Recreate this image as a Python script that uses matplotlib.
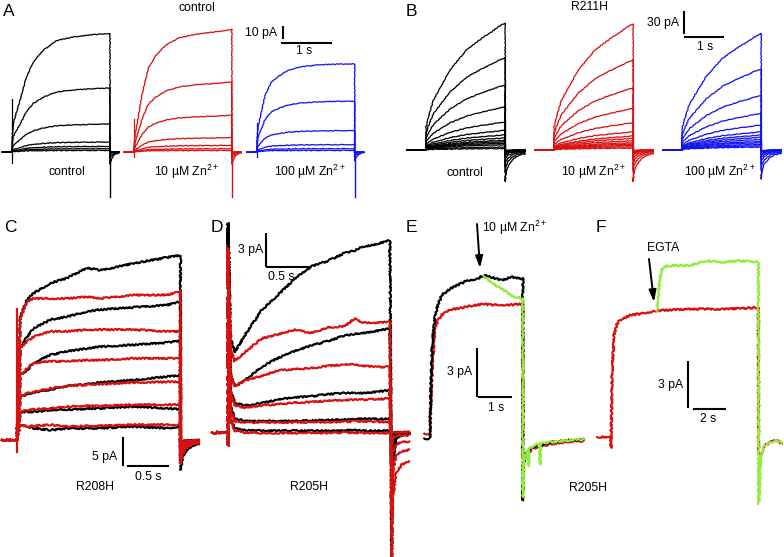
import matplotlib
matplotlib.use("Agg")
import matplotlib.pyplot as plt

plt.rcParams["font.family"] = ["Liberation Sans", "DejaVu Sans"]
plt.rcParams["mathtext.fontset"] = "custom"
plt.rcParams["mathtext.rm"] = "Liberation Sans"
plt.rcParams["mathtext.it"] = "Liberation Sans:italic"
plt.rcParams["mathtext.bf"] = "Liberation Sans:bold"

W, H = 784, 557
BLACK = "#000000"
RED = "#d81010"
BLUE = "#1212f0"
GREEN = "#92ec3c"

# ------------------------------------------------------------
# DATA (currents in pA, time in s from step onset)
# ------------------------------------------------------------
# A: control channel, normalised activation shapes + end amplitudes per sweep
A_t = [0, 0.03, 0.16, 0.28, 0.42, 0.62, 0.88, 1.21, 1.61, 1.92]
A_shape_ctrl = [0.08, 0.25, 0.44, 0.63, 0.76, 0.86, 0.94, 0.97, 0.99, 1.0]
A_shape_zn10 = [0.05, 0.15, 0.47, 0.68, 0.78, 0.87, 0.93, 0.96, 0.98, 1.0]
A_shape_zn100 = [0.10, 0.30, 0.64, 0.79, 0.86, 0.93, 0.97, 0.99, 1.0, 1.0]
A_amp_ctrl = [89, 48, 21, 7.5, 4.2, 2.5, 1.2]
A_amp_zn10 = [92, 52.5, 27.5, 10.8, 5.0, 2.5, 1.2]
A_amp_zn100 = [66, 38, 16, 5.5, 2.5, 1.2]
A_tail_dt = [0, 0.02, 0.06, 0.10, 0.18]
A_tail_frac = [-0.10, -0.07, -0.04, -0.02, -0.005]
A_on_spike = {"ctrl": (-8, 40), "zn10": (-4, 25), "zn100": (-4, 22)}
A_off_spike = -34

# B: R211H
B_t = [0, 0.06, 0.18, 0.39, 0.60, 0.81, 1.02, 1.23, 1.44, 1.64, 1.81, 1.98]
B_shape = [0.18, 0.26, 0.39, 0.51, 0.63, 0.71, 0.79, 0.84, 0.89, 0.93, 0.97, 1.0]
B_amp_ctrl = [168, 122, 86, 57, 37, 26, 20, 16, 13, 11, 9, 7, 4, 2]
B_amp_zn10 = [167, 119, 82, 55, 36, 24, 18.5, 15.4, 12.3, 9.7, 7.9, 6.2, 4.4, 2.6]
B_amp_zn100 = [154, 107, 72, 48.5, 33, 24, 19.8, 16.8, 14.1, 11.5, 9.7, 7.5, 5.7, 4.0]
B_tail_dt = [0, 0.02, 0.08, 0.20, 0.35, 0.50]
B_tail_frac = [-0.25, -0.18, -0.12, -0.07, -0.04, -0.03]

# C: R208H, black = control, red = Zn2+
C_t = [0.04, 0.12, 0.2, 0.4, 0.6, 0.84, 1.0, 1.4, 1.8, 1.96]
C_black = [
    [21.0, 23.9, 25.0, 26.7, 27.6, 29.3, 28.9, 30.1, 31.1, 31.5],
    [15.6, 17.6, 19.0, 20.5, 21.0, 21.9, 22.2, 22.6, 23.0, 23.6],
    [11.1, 11.9, 13.1, 14.5, 15.1, 15.6, 15.9, 16.2, 16.6, 16.9],
    [7.4, 7.8, 8.1, 8.6, 9.2, 9.5, 9.8, 10.2, 10.8, 11.0],
    [4.7, 4.8, 4.8, 5.1, 5.2, 5.3, 5.4, 5.7, 5.4, 5.2],
    [2.6, 2.3, 2.0, 1.7, 2.0, 2.0, 2.0, 2.3, 2.0, 2.3],
]
C_red = [
    [20.7, 23.6, 24.1, 24.1, 24.1, 24.4, 24.1, 24.7, 24.7, 25.3],
    [15.6, 16.8, 17.6, 18.5, 18.5, 18.8, 18.8, 18.8, 18.5, 18.5],
    [11.1, 12.2, 13.1, 13.4, 13.4, 13.6, 13.6, 13.9, 13.9, 13.9],
    [7.4, 8.0, 8.2, 8.8, 9.2, 9.4, 9.5, 9.8, 9.9, 9.9],
    [4.8, 5.1, 5.2, 5.4, 5.7, 5.8, 5.8, 6.0, 6.0, 6.0],
    [2.6, 2.3, 2.4, 2.6, 2.3, 2.4, 2.4, 2.6, 2.6, 2.6],
]
C_tail_dt = [0, 0.03, 0.08, 0.14, 0.22]
C_tail_top = [-5.1, -2.8, -1.6, -1.0, -0.6]
C_on_spike = (-2.0, 22.4)

# D: R205H, black = control, red = Zn2+
D_t = [0.03, 0.076, 0.19, 0.38, 0.57, 0.76, 0.95, 1.14, 1.33, 1.44, 1.52, 1.70, 1.84]
D_black = [
    [8.3, 7.1, 8.6, 10.8, 12.2, 13.6, 14.7, 15.2, 15.9, 16.1, 16.4, 16.7, 17.0],
    [5.2, 4.1, 4.6, 5.8, 6.6, 7.2, 7.7, 8.1, 8.6, 8.7, 8.8, 9.0, 9.2],
    [3.7, 2.65, 2.4, 2.6, 2.9, 3.1, 3.2, 3.4, 3.5, 3.5, 3.5, 3.6, 3.75],
    [2.3, 1.3, 1.0, 1.0, 1.0, 1.0, 1.05, 1.1, 1.15, 1.2, 1.2, 1.2, 1.2],
    [1.3, 0.35, 0.2, 0.15, 0.15, 0.15, 0.15, 0.15, 0.2, 0.2, 0.15, 0.15, 0.15],
]
D_red = [
    [7.4, 6.3, 7.1, 8.3, 8.7, 9.1, 8.8, 9.3, 9.4, 10.1, 9.7, 9.7, 9.8],
    [5.2, 4.1, 4.6, 5.0, 5.5, 5.6, 5.7, 5.9, 6.0, 6.0, 5.9, 5.8, 5.8],
    [3.5, 2.4, 2.2, 2.4, 2.5, 2.65, 2.7, 2.8, 2.85, 2.9, 2.9, 2.95, 3.0],
    [2.0, 1.0, 0.9, 0.9, 0.9, 0.9, 0.9, 0.9, 0.95, 1.0, 1.0, 0.95, 0.9],
    [1.1, 0.15, 0.0, -0.05, -0.05, -0.05, -0.05, -0.05, 0.0, 0.0, -0.05, -0.05, -0.05],
]
D_spike = {"black": 18.5, "red": 16.3}
D_spike_low = -1.15
D_end = 1.86
D_tail_dt = [0, 0.01, 0.05, 0.12, 0.20]
D_tail_black = [-11.2, -3.0, -0.6, -0.2, -0.1]
D_tail_red = [-11.2, -6.0, -3.5, -2.8, -2.6]

# E: R205H, 10 uM Zn2+ applied during the step
E_t = [-0.17, 0, 0.03, 0.06, 0.1, 0.15, 0.25, 0.35, 0.6, 0.9, 1.1, 1.4, 1.57, 1.8, 2.1, 2.4, 2.73]
E_black = [0, 0, 3.5, 5.5, 6.5, 7.5, 8.3, 8.8, 9.2, 9.5, 9.7, 9.8, 10.0, 9.9, 9.7, 9.9, 9.8]
E_red = [0.3, 0.3, 2.5, 4.2, 5.5, 6.8, 7.3, 7.6, 7.9, 8.0, 8.1, 8.2, 8.25, 8.2, 8.2, 8.2, 8.25]
E_t_green = [1.57, 1.86, 2.16, 2.45, 2.73]
E_green = [10.0, 9.5, 9.1, 8.7, 8.6]
E_tail_dt = [0, 0.03, 0.10, 0.30, 0.80, 1.30, 1.79]
E_tail_black = [-3.8, -1.5, -0.9, -0.5, -0.25, -0.12, -0.05]
E_tail_red = [-1.2, -1.2, -1.0, -0.6, -0.35, -0.2, -0.15]
E_tail_dt_green = [0, 0.03, 0.10, 0.16, 0.17, 0.18, 0.30, 0.50, 0.51, 0.52, 0.80, 1.30, 1.79]
E_tail_green = [-3.6, -1.5, -0.9, -0.7, -1.7, -0.65, -0.45, -0.3, -1.6, -0.3, -0.22, -0.12, -0.05]

# F: R205H, EGTA applied during the step
F_t_red = [-0.85, 0, 0, 0.06, 0.1, 0.18, 0.35, 0.55, 1.17, 1.78, 2.8, 4.85, 6.9, 9.04]
F_red = [0, 0, -0.7, 3.7, 4.7, 6.5, 7.2, 7.5, 7.8, 7.9, 8.1, 8.2, 8.2, 8.3]
F_t_green = [2.8, 2.9, 3.05, 3.2, 3.8, 4.85, 5.87, 6.9, 7.9, 9.04]
F_green = [8.1, 9.0, 10.5, 10.9, 11.0, 11.0, 11.3, 11.2, 11.3, 11.2]
F_end = 9.06
F_tail_dt = [0, 0.12, 0.30, 0.70, 1.10, 1.43]
F_tail_green = [-4.3, -1.45, -0.6, -0.34, -0.2, -0.38]
F_tail_red = [-1.2, -1.3, -0.6, -0.34, -0.2, -0.4]


# ------------------------------------------------------------
# HELPERS
# ------------------------------------------------------------
fig = plt.figure(figsize=(W / 100, H / 100), dpi=100)


def panel(x0, y0, pps, ppa):
    # full-figure transparent axes; (x0, y0) = pixel of t=0 / I=0
    ax = fig.add_axes([0, 0, 1, 1])
    ax.set_xlim(-x0 / pps, (W - x0) / pps)
    ax.set_ylim(-(H - y0) / ppa, y0 / ppa)
    ax.axis("off")
    ax.px = (x0, y0, pps, ppa)
    return ax


def to_data(ax, px, py):
    x0, y0, pps, ppa = ax.px
    return (px - x0) / pps, (y0 - py) / ppa


def trace(ax, t, y, color, lw, noise=0.0):
    line, = ax.plot(t, y, color=color, lw=lw, solid_joinstyle="round")
    if noise:
        line.set_sketch_params(scale=noise, length=2.5, randomness=3)
    return line


def scalebar(ax, vpx, dy, hpx, dx):
    x, y = to_data(ax, *vpx)
    ax.plot([x, x], [y, y + dy], color="k", lw=1.5, solid_capstyle="butt")
    x, y = to_data(ax, *hpx)
    ax.plot([x, x + dx], [y, y], color="k", lw=1.5, solid_capstyle="butt")


def ptext(x, y, s, size=8.8, ha="center", **kw):
    fig.text(x / W, 1 - y / H, s, ha=ha, va="center", fontsize=size, **kw)


def family(ax, t_pts, shape, amps, tail_dt, tail_frac, offset, color, lw, t_pre, noise):
    t_end = t_pts[-1]
    tt = [t_pre, 0] + list(t_pts) + [t_end + d for d in tail_dt]
    tt = [offset + v for v in tt]
    for a in amps:
        yy = [0, 0] + [a * s for s in shape] + [a * f for f in tail_frac]
        trace(ax, tt, yy, color, lw, noise)


# ------------------------------------------------------------
# PANEL A
# ------------------------------------------------------------
axA = panel(12, 152, 51, 1.333)
A_groups = [("ctrl", A_shape_ctrl, A_amp_ctrl, 0.0, BLACK),
            ("zn10", A_shape_zn10, A_amp_zn10, 2.39, RED),
            ("zn100", A_shape_zn100, A_amp_zn100, 4.80, BLUE)]
for key, shape, amps, off, col in A_groups:
    family(axA, A_t, shape, amps, A_tail_dt, A_tail_frac, off, col, 0.9, -0.19, 0.35)
    lo, hi = A_on_spike[key]
    axA.plot([off, off], [lo, hi], color=col, lw=0.9)
    axA.plot([off + A_t[-1]] * 2, [0, A_off_spike], color=col, lw=1.0)
scalebar(axA, (282.7, 39.3), 10, (281, 43.3), 1)

# ------------------------------------------------------------
# PANEL B
# ------------------------------------------------------------
axB = panel(426, 150, 40, 0.756)
for amps, off, col in [(B_amp_ctrl, 0.0, BLACK), (B_amp_zn10, 3.2, RED), (B_amp_zn100, 6.4, BLUE)]:
    family(axB, B_t, B_shape, amps, B_tail_dt, B_tail_frac, off, col, 0.9, -0.47, 0.35)
scalebar(axB, (684, 34), 30, (684, 37.3), 1)

# ------------------------------------------------------------
# PANEL C
# ------------------------------------------------------------
axC = panel(17, 440, 83.4, 5.87)
t_end = C_t[-1]
for rows, col in [(C_black, BLACK), (C_red, RED)]:
    top = C_black[0][-1]
    for vals in rows:
        k = vals[-1] / top
        tt = [-0.18, 0] + C_t + [t_end + d for d in C_tail_dt]
        yy = [0, 0] + vals + [k * v for v in C_tail_top]
        trace(axC, tt, yy, col, 1.5, 0.8)
axC.plot([0, 0], list(C_on_spike), color=RED, lw=1.6)
scalebar(axC, (123.3, 466), 5, (127, 466), 0.5)

# ------------------------------------------------------------
# PANEL D
# ------------------------------------------------------------
axD = panel(228, 432.5, 88, 11.3)
for rows, col, key, tail in [(D_black, BLACK, "black", D_tail_black), (D_red, RED, "red", D_tail_red)]:
    top = rows[0][-1]
    for vals in rows:
        k = vals[-1] / top
        tt = [-0.18, 0, 0, 0] + D_t + [D_end + d for d in D_tail_dt]
        yy = [0, 0, D_spike_low, D_spike[key]] + vals + [k * v for v in tail]
        trace(axD, tt, yy, col, 1.5, 0.8)
scalebar(axD, (266, 267), 3, (266, 267), 0.5)

# ------------------------------------------------------------
# PANEL E
# ------------------------------------------------------------
axE = panel(430, 438.5, 34, 16.3)
e_end = E_t[-1]
trace(axE, E_t + [e_end + d for d in E_tail_dt], E_red + E_tail_red, RED, 1.5, 0.9)
trace(axE, E_t + [e_end + d for d in E_tail_dt], E_black + E_tail_black, BLACK, 1.5, 0.9)
trace(axE, E_t_green + [e_end + d for d in E_tail_dt_green], E_green + E_tail_green, GREEN, 1.5, 0.9)
scalebar(axE, (477, 397), 3, (478, 397), 1)
axE.annotate("", xy=to_data(axE, 480, 268), xytext=to_data(axE, 477, 224),
             arrowprops=dict(arrowstyle="-|>,head_length=0.7,head_width=0.22",
                             color="k", lw=1.4, shrinkA=0, shrinkB=0))

# ------------------------------------------------------------
# PANEL F
# ------------------------------------------------------------
axF = panel(611, 437, 16.3, 15.6)
trace(axF, F_t_red + [F_end + d for d in F_tail_dt], F_red + F_tail_red, RED, 1.5, 0.9)
trace(axF, F_t_green + [F_end + d for d in F_tail_dt], F_green + F_tail_green, GREEN, 1.5, 0.9)
scalebar(axF, (688, 408), 3, (693, 409), 2)
axF.annotate("", xy=to_data(axF, 654, 302), xytext=to_data(axF, 649, 259),
             arrowprops=dict(arrowstyle="-|>,head_length=0.7,head_width=0.22",
                             color="k", lw=1.4, shrinkA=0, shrinkB=0))

# ------------------------------------------------------------
# TEXT
# ------------------------------------------------------------
zn10 = "10 \u00b5M Zn$^{2+}$"
zn100 = "100 \u00b5M Zn$^{2+}$"
for s, x, y in [("A", 9, 12), ("B", 411, 12), ("C", 10, 228), ("D", 217, 228),
                ("E", 411, 228), ("F", 601, 228)]:
    ptext(x, y, s, size=12.5)

ptext(197, 8, "control")
ptext(589, 7, "R211H")
ptext(277, 33, "10 pA", ha="right")
ptext(304, 51, "1 s")
ptext(67, 172, "control")
ptext(186, 172, zn10)
ptext(310, 172, zn100)
ptext(679, 23, "30 pA", ha="right")
ptext(705, 47, "1 s")
ptext(465, 173, "control")
ptext(593, 172, zn10)
ptext(720, 172, zn100)

ptext(117, 457, "5 pA", ha="right")
ptext(148, 477, "0.5 s")
ptext(95, 487, "R208H")
ptext(263, 250, "3 pA", ha="right")
ptext(281, 277, "0.5 s")
ptext(309, 487, "R205H")
ptext(482, 228, zn10, ha="left")
ptext(472, 372, "3 pA", ha="right")
ptext(496, 408, "1 s")
ptext(588, 488, "R205H")
ptext(663, 248, "EGTA")
ptext(683, 385, "3 pA", ha="right")
ptext(708, 419, "2 s")

fig.savefig("out.png", dpi=100)
